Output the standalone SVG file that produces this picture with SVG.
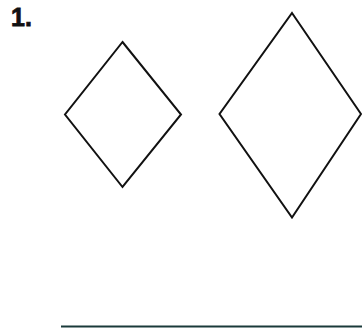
<svg xmlns="http://www.w3.org/2000/svg" width="362" height="330" viewBox="0 0 362 330">
<style>
.shape{fill:none;stroke:#111;stroke-width:2;stroke-linejoin:miter}
.label{font-family:"Liberation Sans",Arial,sans-serif;font-weight:bold;font-size:25px;fill:#111;stroke:#111;stroke-width:0.8}
</style>
<rect width="362" height="330" fill="#fff"/>
<text class="label" x="11" y="26">1.</text>
<g id="small-diamond"><polygon class="shape" points="122.5,42 181,114.5 122.5,187 65,114.5"/></g>
<g id="large-diamond"><polygon class="shape" points="292,13 361,114 292,217.5 219.5,114"/></g>
<line x1="61" y1="326.5" x2="362" y2="326.5" stroke="#1a3a3a" stroke-width="2"/>
</svg>
